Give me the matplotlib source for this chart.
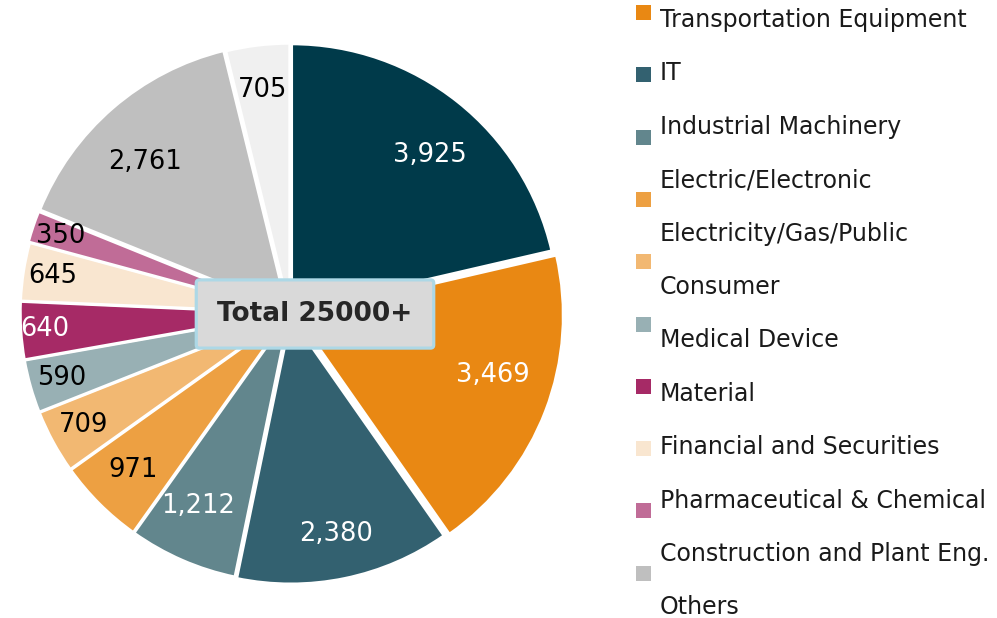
import matplotlib
matplotlib.use("Agg")
import numpy as np
import matplotlib.pyplot as plt
from matplotlib.patches import Rectangle

# Dados
setores = ['Transportation Equipment', 'IT', 'Industrial Machinery', 'Electric/Electronic',
           'Electricity/Gas/Public', 'Consumer', 'Medical Device', 'Material',
           'Financial and Securities', 'Pharmaceutical & Chemical',
           'Construction and Plant Eng.', 'Others']
valores = [3925, 3469, 2380, 1212, 971, 709, 590, 640, 645, 350, 2761, 705]
cores = ['#003a4a', '#e98813', '#336170', '#62868d', '#eda042', '#f2b872',
         '#98b0b4', '#a62a66', '#f9e6d0', '#c06c97', '#bfbfbf', '#f0f0f0']
cor_texto = ['white', 'white', 'white', 'white', 'black', 'black',
             'black', 'white', 'black', 'black', 'black', 'black']
explode = [0.01, 0.025, 0.015, 0.01, 0.01, 0.01, 0.01, 0.01, 0.01, 0.015, 0.015, 0.01]
dist_rotulo = [0.78, 0.77, 0.83, 0.79, 0.82, 0.87, 0.88, 0.91, 0.89, 0.89, 0.77, 0.83]
desvio_ang = [-3, 4, 0, -2, 0, 0, 0, 0, 0, 0, 3, 0]  # graus
total_txt = 'Total 25000+'

W, H = 997, 618
fig = plt.figure(figsize=(W / 100, H / 100), dpi=100)

# Pizza: centro ~ (290, 312) px, raio ~ 267 px
cx, cy, r = 290, 313, 267
lim = 1.04
lado = 2 * r * lim
ax = fig.add_axes([(cx - lado / 2) / W, (H - cy - lado / 2) / H, lado / W, lado / H])
wedges, _ = ax.pie(valores, colors=cores, startangle=90, counterclock=False,
                   explode=explode,
                   wedgeprops=dict(edgecolor='white', linewidth=2))
for w, v, c, d, da in zip(wedges, valores, cor_texto, dist_rotulo, desvio_ang):
    ang = np.deg2rad((w.theta1 + w.theta2) / 2 + da)
    x0, y0 = w.center
    ax.text(x0 + d * np.cos(ang), y0 + d * np.sin(ang), f'{v:,}', ha='center', va='center',
            fontsize=18.5, color=c)
ax.set_xlim(-lim, lim)
ax.set_ylim(-lim, lim)
ax.set_aspect('equal')

# Legenda e caixa central em coordenadas de pixel
leg = fig.add_axes([0, 0, 1, 1])
leg.set_xlim(0, W)
leg.set_ylim(H, 0)
leg.axis('off')

leg.text(315, 314, total_txt, ha='center', va='center', fontsize=19, fontweight='bold',
         color='#262626',
         bbox=dict(boxstyle='round,pad=0.8,rounding_size=0.12', facecolor='#d9d9d9',
                   edgecolor='#add8e6', linewidth=2.3))

for i, (nome, cor) in enumerate(zip(setores, cores)):
    leg.text(660, 20 + 53.4 * i, nome, ha='left', va='center', fontsize=17, color='#1a1a1a')
    ym = 12.5 + 62.3 * (i - 1)
    leg.add_patch(Rectangle((636, ym - 7.5), 15, 15, facecolor=cor, edgecolor='none'))

fig.savefig('out.png', dpi=100)
